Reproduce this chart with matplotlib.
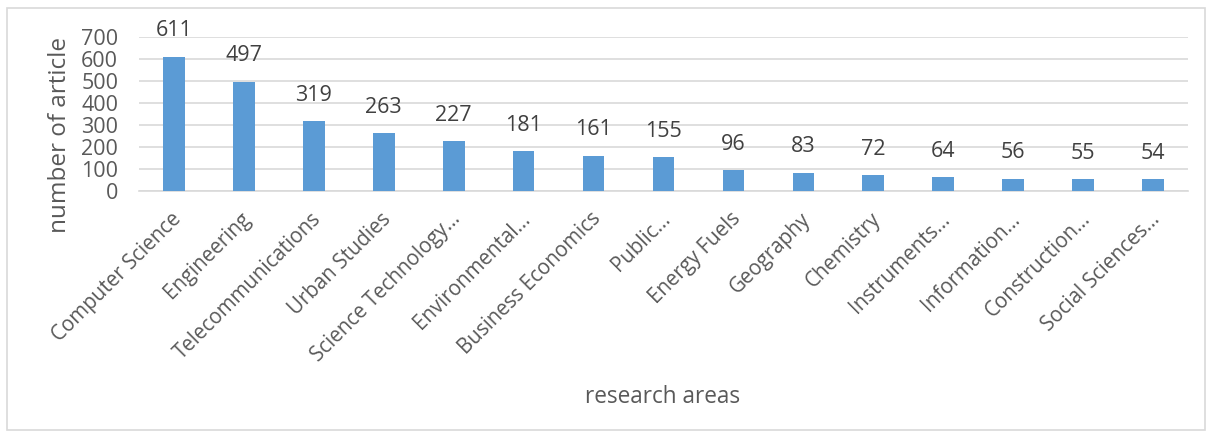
import matplotlib
matplotlib.use('Agg')
import matplotlib.pyplot as plt
import matplotlib.patches as mpatches
import matplotlib.transforms as mtransforms

plt.rcParams['font.family'] = ['Open Sans', 'DejaVu Sans']

# Data
areas = ['Computer Science', 'Engineering', 'Telecommunications', 'Urban Studies',
         'Science Technology...', 'Environmental...', 'Business Economics',
         'Public...', 'Energy Fuels', 'Geography', 'Chemistry', 'Instruments...',
         'Information...', 'Construction...', 'Social Sciences...']
articles = [611, 497, 319, 263, 227, 181, 161, 155, 96, 83, 72, 64, 56, 55, 54]
y_ticks = [0, 100, 200, 300, 400, 500, 600, 700]

C_BAR = '#5B9BD5'
C_TEXT = '#595959'
C_GRID = '#D9D9D9'

fig = plt.figure(figsize=(12.19, 4.38), dpi=100)
ax = fig.add_axes([139 / 1219, 1 - 191 / 438, (1188 - 139) / 1219, (191 - 37) / 438])

x = list(range(len(areas)))
ax.bar(x, articles, width=0.31, color=C_BAR, zorder=3)

for xi, v in zip(x, articles):
    ax.annotate(str(v), (xi, v), xytext=(0, 11), textcoords='offset points',
                ha='center', va='bottom', fontsize=15.5, color='#404040')

ax.set_xlim(-0.5, len(areas) - 0.5)
ax.set_ylim(0, 700)
ax.set_yticks(y_ticks)
ax.yaxis.grid(True, color=C_GRID, linewidth=1.2, zorder=0)
ax.tick_params(axis='y', length=0, labelsize=15.5, labelcolor=C_TEXT, pad=15)
ax.tick_params(axis='x', length=0, labelsize=14.8, labelcolor=C_TEXT, pad=18)
ax.set_xticks(x)
ax.set_xticklabels(areas, rotation=45, ha='right', va='center', rotation_mode='anchor')
shift = mtransforms.ScaledTranslation(4 / 100, 0, fig.dpi_scale_trans)
for lbl in ax.get_xticklabels():
    lbl.set_transform(lbl.get_transform() + shift)

for side in ['top', 'right', 'left']:
    ax.spines[side].set_visible(False)
ax.spines['bottom'].set_color(C_GRID)
ax.spines['bottom'].set_linewidth(1.2)

fig.text(60 / 1219, 1 - 135 / 438, 'number of article', rotation=90, ha='center',
         va='center', fontsize=17.5, color=C_TEXT)
fig.text(663 / 1219, 1 - 397 / 438, 'research areas', ha='center', va='center',
         fontsize=16.3, color=C_TEXT)

# Chart border
fig.patches.append(mpatches.Rectangle((7 / 1219, 8 / 438), (1205 - 7) / 1219,
                                      (430 - 8) / 438, transform=fig.transFigure,
                                      fill=False, edgecolor='#D9D9D9', linewidth=1.2))

fig.savefig('out.png', dpi=100)
